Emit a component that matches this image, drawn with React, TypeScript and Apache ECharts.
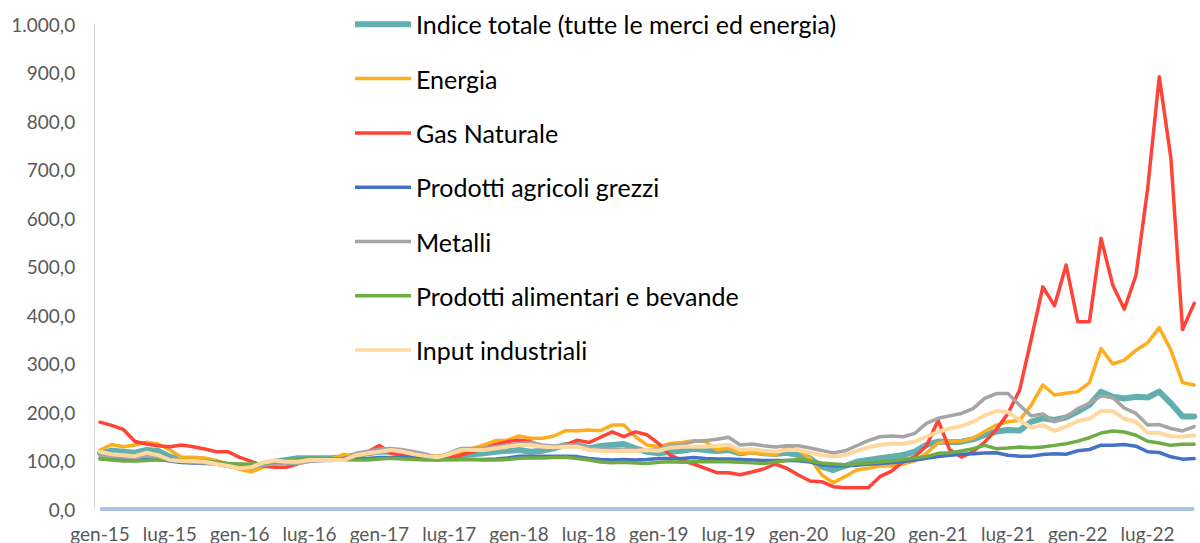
import React, { useEffect, useRef } from "react";
import * as echarts from "echarts";

const monthNames = ["gen", "feb", "mar", "apr", "mag", "giu", "lug", "ago", "set", "ott", "nov", "dic"];
const years = ["15", "16", "17", "18", "19", "20", "21", "22"];
const lastMonthOfLastYear = 10; // nov-22

const categories: string[] = [];
years.forEach((y, yi) => {
  monthNames.forEach((m, mi) => {
    if (yi < years.length - 1 || mi <= lastMonthOfLastYear) categories.push(`${m}-${y}`);
  });
});

const yTickLabels = ["0,0", "100,0", "200,0", "300,0", "400,0", "500,0", "600,0", "700,0", "800,0", "900,0", "1.000,0"];

const indiceTotale = [
  115, 120, 118, 116, 121.6, 119.6, 108, 101, 101, 99, 95.5, 90.7,
  86, 84, 93, 97.6, 101, 104.5, 104.5, 104.5, 104.5, 106.5, 111, 115,
  118, 118, 115, 111, 108, 104.5, 109, 111, 113, 115, 118, 120,
  121.6, 118, 120, 125, 132, 132, 125, 130, 132, 134, 125, 118,
  115, 118, 120, 124, 121.6, 119.6, 121.6, 114.7, 118.3, 114.7, 113.4, 116,
  111.3, 104.5, 87.3, 80.4, 88.6, 97.5, 101, 104.5, 108, 111.3, 118.3, 132,
  139, 137.5, 138.8, 143.6, 152.6, 159.6, 163, 161.6, 180, 187, 183.5, 189,
  200.7, 214.4, 242, 231.6, 228, 231.6, 230, 242, 218, 190.7, 190.7,
];

const energia = [
  121.6, 133, 128.5, 132, 137.5, 134, 121.6, 106.5, 106.5, 105, 100, 91.4,
  81.8, 76.3, 86, 93, 96, 100, 101, 101, 104, 113, 106.5, 117.5,
  123, 123, 121.6, 116, 111, 109, 113, 118, 125, 132, 141, 142,
  150.5, 145.7, 145.7, 150.5, 161.5, 161.5, 163, 161.5, 173, 173, 149, 132,
  128.5, 135, 137, 141, 139, 121.6, 125, 114.7, 116, 113.4, 111.3, 127,
  121.6, 104.5, 70, 54.4, 66.7, 80.4, 83.8, 88.6, 88.6, 92.8, 99.6, 114.7,
  136.7, 139, 140, 146, 159.6, 173, 180, 183, 214, 255.7, 235, 238.6,
  242, 260.5, 331, 299, 307, 327.5, 342.7, 374, 327.5, 260.5, 255.7,
];

const gasNaturale = [
  179, 172.5, 164, 139, 134, 130.6, 128.5, 132, 128.5, 123.7, 118, 118,
  106.5, 98, 88.7, 86, 86, 93, 100, 101, 102.4, 103.8, 111, 118,
  131, 115, 112, 108, 105, 101, 106, 111, 118, 125, 133, 139,
  142, 139, 128, 125, 132, 142, 137, 148, 159, 149, 159, 153,
  135, 111, 100, 92.8, 83.9, 74.8, 74.8, 70.7, 76.3, 82.5, 92.8, 83.9,
  70.1, 57.8, 56.4, 46, 44, 44, 44, 66.6, 78.2, 97.5, 107.8, 129.8,
  183, 122, 107, 118, 138, 164, 197, 245, 350, 458, 419, 503,
  386, 386, 558, 462, 412, 482, 660, 891, 723, 370, 424,
];

const agricoliGrezzi = [
  104, 103, 102, 102, 104, 102, 99, 96, 95, 94, 94, 93,
  91, 90, 91, 94, 97, 99, 100, 100, 101, 102, 103, 104,
  106, 106, 107, 105, 104, 103, 102, 102, 102, 102, 103, 105,
  109, 109, 109, 109, 109, 108, 104, 102, 101, 102, 101, 102,
  104, 104, 104, 106, 104, 103, 103, 102, 101, 100, 100, 100,
  99.7, 97, 91, 89, 89, 90, 92, 94, 95.4, 98, 101, 104.5,
  108, 111, 113, 114, 115.6, 116, 111, 109, 109, 112.5, 114, 113,
  120, 122.7, 131.6, 131.6, 133, 129.6, 118, 116.5, 107.6, 102.8, 104,
];

const metalli = [
  110, 108, 107, 106, 109, 107, 101, 98, 96, 95, 92, 88,
  85, 86, 90, 93, 94, 94, 98, 100, 100, 102, 115, 119,
  123, 125, 122, 118, 113, 106.5, 115, 125, 125, 125, 128.5, 132,
  135, 137, 132, 130, 132, 132, 125, 123.7, 123, 123, 123, 121.6,
  123, 132, 133, 139, 141, 143.7, 148, 132, 133.9, 130.4, 127.8, 130.4,
  130.4, 125.6, 120.8, 115.3, 120, 130.4, 141, 149, 150.5, 149, 156, 176.6,
  187, 192, 197, 207, 228, 238, 238, 214, 192, 196, 180, 190,
  207, 218, 233, 230, 208, 197, 173, 174, 166, 161, 170,
];

const alimentariBevande = [
  103, 101, 99, 99, 100, 101, 101, 100, 100, 99, 97, 94,
  93, 93, 94, 97, 100, 103, 104.5, 104, 103, 102, 101, 101,
  103, 104.5, 103, 102, 101, 101, 101.5, 102, 102, 101, 101, 102,
  104.5, 105, 105, 106, 106.5, 104, 101, 97, 95.5, 96.5, 95, 94,
  96.5, 97.6, 96.5, 97.6, 97.6, 97.6, 97.6, 96.5, 95.5, 94, 97, 100,
  102, 99, 95, 93, 91, 93, 95, 97, 99.7, 102, 105, 108,
  114.7, 116, 119.6, 124.4, 131.2, 124.4, 125.8, 127.8, 126.5, 127.8, 131.2, 134.7,
  140, 147, 156.7, 160.8, 158.8, 152, 139.6, 136.2, 131.2, 133.3, 133.3,
];

const inputIndustriali = [
  118, 113, 111, 109, 116, 111, 101, 99, 99, 97.6, 92.8, 88.7,
  84, 86, 95.5, 100, 97.6, 97.6, 101, 101, 101, 101, 111, 115,
  118, 121.6, 118, 113, 109, 106.5, 113, 121.6, 121.6, 121.6, 125, 128.5,
  132, 132, 128.5, 127, 128.5, 128.5, 121.6, 120, 119, 120, 119.6, 121.6,
  120, 126.5, 128.5, 128.5, 128.5, 130.4, 132.4, 121.6, 123, 120, 118.3, 121.6,
  121.6, 116, 111.3, 108, 111.3, 119.6, 127, 132.4, 134.5, 134.5, 139, 149,
  159.3, 166, 171, 180, 193, 202, 200, 183, 168, 173, 161, 170,
  181.4, 186.3, 202, 202, 186, 180, 157, 157, 150, 149, 152,
];

const seriesDefs = [
  { name: "Indice totale (tutte le merci ed energia)", data: indiceTotale, color: "#62AFB0", width: 6 },
  { name: "Energia", data: energia, color: "#FDAD1E", width: 3.5 },
  { name: "Gas Naturale", data: gasNaturale, color: "#FF4336", width: 3.5 },
  { name: "Prodotti agricoli grezzi", data: agricoliGrezzi, color: "#4472C4", width: 3.5 },
  { name: "Metalli", data: metalli, color: "#A5A5A5", width: 3.5 },
  { name: "Prodotti alimentari e bevande", data: alimentariBevande, color: "#6FAC46", width: 3.5 },
  { name: "Input industriali", data: inputIndustriali, color: "#FFD8A0", width: 4 },
];

const FONT = "Lato";
const thickIcon = "path://M0,0H56V6H0Z";
const thinIcon = "path://M0,0M0,6M0,1.25H56V4.75H0Z";

export default function App() {
  const ref = useRef<HTMLDivElement>(null);

  useEffect(() => {
    if (!ref.current) return;
    const chart = echarts.init(ref.current, undefined, { renderer: "svg" });
    const monthStep = 11.685;
    const option: any = {
      animation: false,
      backgroundColor: "#ffffff",
      textStyle: { fontFamily: FONT },
      grid: { left: 94.2, top: 24, width: monthStep * categories.length, height: 485, containLabel: false },
      legend: {
        orient: "vertical",
        left: 355,
        top: 9.3,
        padding: 0,
        itemWidth: 56,
        itemHeight: 6,
        itemGap: 24.3,
        selectedMode: false,
        itemStyle: { borderWidth: 0 },
        textStyle: { fontFamily: FONT, fontSize: 25, color: "#000000", lineHeight: 30 },
        data: seriesDefs.map((s, i) => ({ name: s.name, icon: i === 0 ? thickIcon : thinIcon })),
      },
      xAxis: {
        type: "category",
        data: categories,
        boundaryGap: true,
        axisLine: { show: false },
        axisTick: { show: false },
        splitLine: { show: false },
        axisLabel: {
          interval: 5,
          margin: 14,
          fontFamily: FONT,
          fontSize: 19,
          lineHeight: 20,
          color: "#595959",
        },
      },
      yAxis: {
        type: "value",
        min: 0,
        max: 1000,
        interval: 100,
        axisLine: { show: true, lineStyle: { color: "#D9D9D9", width: 1 } },
        axisTick: { show: false },
        splitLine: { show: false },
        axisLabel: {
          margin: 19,
          fontFamily: FONT,
          fontSize: 19,
          color: "#595959",
          formatter: (v: number) => yTickLabels[Math.round(v / 100)] ?? "",
        },
      },
      series: seriesDefs.map((s, i) => ({
        name: s.name,
        type: "line",
        data: s.data,
        symbol: "none",
        smooth: false,
        color: s.color,
        lineStyle: { color: s.color, width: s.width, cap: "round", join: "round" },
        itemStyle: { color: s.color },
        emphasis: { disabled: true },
        z: 2 + i,
        markLine:
          i === 0
            ? {
                silent: true,
                symbol: "none",
                label: { show: false },
                lineStyle: { color: "#AAC4E6", width: 4, type: "solid" },
                emphasis: { disabled: true },
                data: [[{ coord: [0, 0] }, { coord: [categories.length - 1, 0] }]],
              }
            : undefined,
      })),
    };
    chart.setOption(option);
    return () => chart.dispose();
  }, []);

  return (
    <div
      ref={ref}
      style={{ position: "absolute", left: 0, top: 0, width: 1200, height: 543, overflow: "hidden" }}
    />
  );
}
